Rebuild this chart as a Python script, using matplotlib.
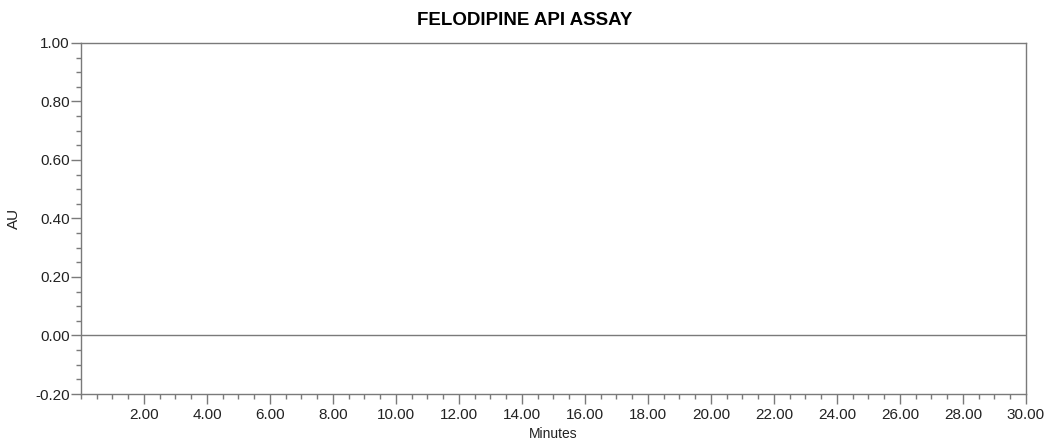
import numpy as np
import matplotlib.pyplot as plt
from matplotlib.ticker import MultipleLocator, FormatStrFormatter

plt.rcParams['font.family'] = ['Liberation Sans', 'DejaVu Sans']

# chromatogram trace (flat baseline)
minutes = [0.0, 30.0]
au = [0.0, 0.0]

x_ticks = [2, 4, 6, 8, 10, 12, 14, 16, 18, 20, 22, 24, 26, 28, 30]
y_ticks = [-0.20, 0.00, 0.20, 0.40, 0.60, 0.80, 1.00]

grey = '#7a7a7a'

fig = plt.figure(figsize=(10.49, 4.43), dpi=100)
ax = fig.add_axes([0.0772, 0.1106, 0.9008, 0.7924])

ax.plot(minutes, au, color=grey, linewidth=1.0)

ax.set_xlim(0, 30)
ax.set_ylim(-0.20, 1.00)
ax.set_xticks(x_ticks)
ax.set_yticks(y_ticks)
ax.xaxis.set_minor_locator(MultipleLocator(0.5))
ax.yaxis.set_minor_locator(MultipleLocator(0.05))
ax.xaxis.set_major_formatter(FormatStrFormatter('%.2f'))
ax.yaxis.set_major_formatter(FormatStrFormatter('%.2f'))

for s in ax.spines.values():
    s.set_color(grey)
    s.set_linewidth(1.0)

ax.tick_params(which='major', length=7, width=1, color=grey, labelsize=11, pad=1,
               labelcolor='#222222')
ax.tick_params(axis='x', which='major', pad=3)
ax.tick_params(which='minor', length=3.5, width=1, color=grey)

ax.set_xlabel('Minutes', fontsize=10, labelpad=4, color='#222222')
ax.set_ylabel('AU', fontsize=11, labelpad=10, color='#222222')
# title is centred on the figure, not on the axes
fig.suptitle('FELODIPINE API ASSAY', x=0.5, y=0.972, fontsize=13.5, fontweight='bold',
             va='top')

fig.savefig('out.png', dpi=100)
